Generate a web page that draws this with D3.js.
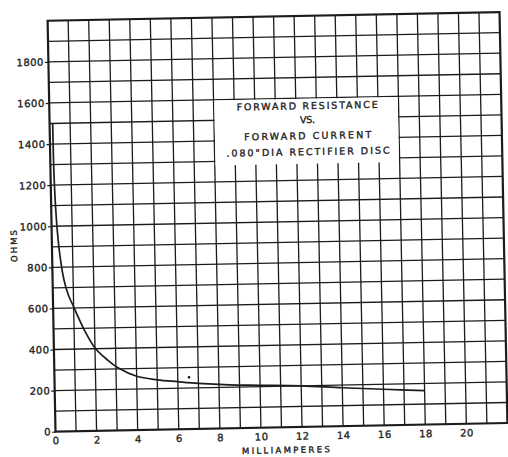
<!DOCTYPE html>
<html>
<head>
<meta charset="utf-8">
<script src="https://cdn.jsdelivr.net/npm/d3@7"></script>
<style>
  html, body { margin: 0; padding: 0; background: #fff; }
  svg { display: block; }
  text { font-family: "DejaVu Sans", sans-serif; fill: #222; stroke: #222; stroke-width: 0.35px; }
</style>
</head>
<body>
<svg id="chart" width="508" height="457"></svg>
<script>
// ---- data ----
const currentMA = [0.15, 0.16, 0.2, 0.28, 0.4, 0.55, 0.75, 1.0, 1.5, 2.0, 2.6, 3.1, 4.0, 5.0, 6.0, 7.0, 8.5, 10, 12, 14, 16, 18];
const ohms      = [1500, 1300, 1130, 970, 840, 740, 665, 606, 492, 404, 344, 305, 262, 243, 232, 222, 212, 207, 200, 187, 176, 165];
const strayMarkX = [6.55];
const strayMarkY = [252];
const xTickValues = [0, 2, 4, 6, 8, 10, 12, 14, 16, 18, 20];
const xTickLabels = ["0", "2", "4", "6", "8", "10", "12", "14", "16", "18", "20"];
const yTickValues = [0, 200, 400, 600, 800, 1000, 1200, 1400, 1600, 1800];
const yTickLabels = ["0", "200", "400", "600", "800", "1000", "1200", "1400", "1600", "1800"];
const titleLines = ["FORWARD RESISTANCE", "VS.", "FORWARD CURRENT", ".080\"DIA RECTIFIER DISC"];
const xTitle = "MILLIAMPERES";
const yTitle = "OHMS";

// ---- layout ----
const originX = 55.5, originY = 431.7, tilt = -1.1;
const plotW = 452, plotH = 411;
const ink = "#1c1c1c";

const svg = d3.select("#chart");
svg.append("rect").attr("width", 508).attr("height", 457).attr("fill", "#fff");
const g = svg.append("g").attr("transform", `translate(${originX},${originY}) rotate(${tilt})`);

const x = d3.scaleLinear().domain([0, 22]).range([0, plotW]);
const y = d3.scaleLinear().domain([0, 2000]).range([0, -plotH]);

// grid
const grid = g.append("g").attr("stroke", ink).attr("stroke-width", 1.3);
grid.selectAll("line.v").data(d3.range(1, 22)).join("line")
  .attr("class", "v")
  .attr("x1", d => x(d)).attr("x2", d => x(d))
  .attr("y1", y(0)).attr("y2", y(2000));
grid.selectAll("line.h").data(d3.range(100, 2000, 100)).join("line")
  .attr("class", "h")
  .attr("x1", x(0)).attr("x2", x(22))
  .attr("y1", d => y(d)).attr("y2", d => y(d));

// title box (white patch over the grid)
const boxX0 = 8, boxX1 = 17, boxY0 = 1280, boxY1 = 1600;
g.append("rect")
  .attr("x", x(boxX0) + 0.7).attr("y", y(boxY1) + 0.7)
  .attr("width", x(boxX1) - x(boxX0) - 1.4)
  .attr("height", y(boxY0) - y(boxY1) - 0.7)
  .attr("fill", "#fff");

const lineYs = [1563, 1495, 1417, 1339];
const lineWidths = [141, 15, 127, 163];
g.append("g").selectAll("text").data(titleLines).join("text")
  .attr("x", x(12.55))
  .attr("y", (d, i) => y(lineYs[i]))
  .attr("text-anchor", "middle")
  .attr("dominant-baseline", "central")
  .attr("font-size", 9.5)
  .attr("textLength", (d, i) => lineWidths[i])
  .attr("lengthAdjust", "spacing")
  .text(d => d);

// frame
g.append("rect")
  .attr("x", x(0)).attr("y", y(2000))
  .attr("width", x(22) - x(0)).attr("height", y(0) - y(2000))
  .attr("fill", "none").attr("stroke", ink).attr("stroke-width", 2.2);

// axes
const yAxis = g.append("g")
  .call(d3.axisLeft(y).tickValues(yTickValues).tickSize(3.5).tickPadding(1)
    .tickFormat((d, i) => yTickLabels[i]));
yAxis.select(".domain").remove();
yAxis.selectAll("line").attr("stroke", ink).attr("stroke-width", 1.2);
yAxis.selectAll("text").attr("font-size", 10).attr("letter-spacing", 0.5)
  .attr("fill", "#222").attr("font-family", "DejaVu Sans, sans-serif");

const xAxis = g.append("g")
  .call(d3.axisBottom(x).tickValues(xTickValues).tickSize(0).tickPadding(5.5)
    .tickFormat((d, i) => xTickLabels[i]));
xAxis.select(".domain").remove();
xAxis.selectAll("text").attr("font-size", 10).attr("letter-spacing", 0.5)
  .attr("fill", "#222").attr("font-family", "DejaVu Sans, sans-serif");

// axis titles
g.append("text")
  .attr("x", 230).attr("y", 22.8)
  .attr("text-anchor", "middle").attr("dominant-baseline", "central")
  .attr("font-size", 8.5)
  .attr("textLength", 88).attr("lengthAdjust", "spacing")
  .text(xTitle);
g.append("text")
  .attr("transform", `translate(-38,${y(907)}) rotate(-90)`)
  .attr("text-anchor", "middle").attr("dominant-baseline", "central")
  .attr("font-size", 8.5)
  .attr("textLength", 32).attr("lengthAdjust", "spacing")
  .text(yTitle);

// curve
const pts = currentMA.map((c, i) => [c, ohms[i]]);
g.append("path")
  .datum(pts)
  .attr("fill", "none").attr("stroke", ink).attr("stroke-width", 1.7)
  .attr("d", d3.line().x(d => x(d[0])).y(d => y(d[1])).curve(d3.curveCatmullRom.alpha(0.5)));

// stray mark
g.selectAll("circle.stray").data(strayMarkX).join("circle")
  .attr("class", "stray")
  .attr("cx", d => x(d)).attr("cy", (d, i) => y(strayMarkY[i]))
  .attr("r", 1.4).attr("fill", ink);
</script>
</body>
</html>
